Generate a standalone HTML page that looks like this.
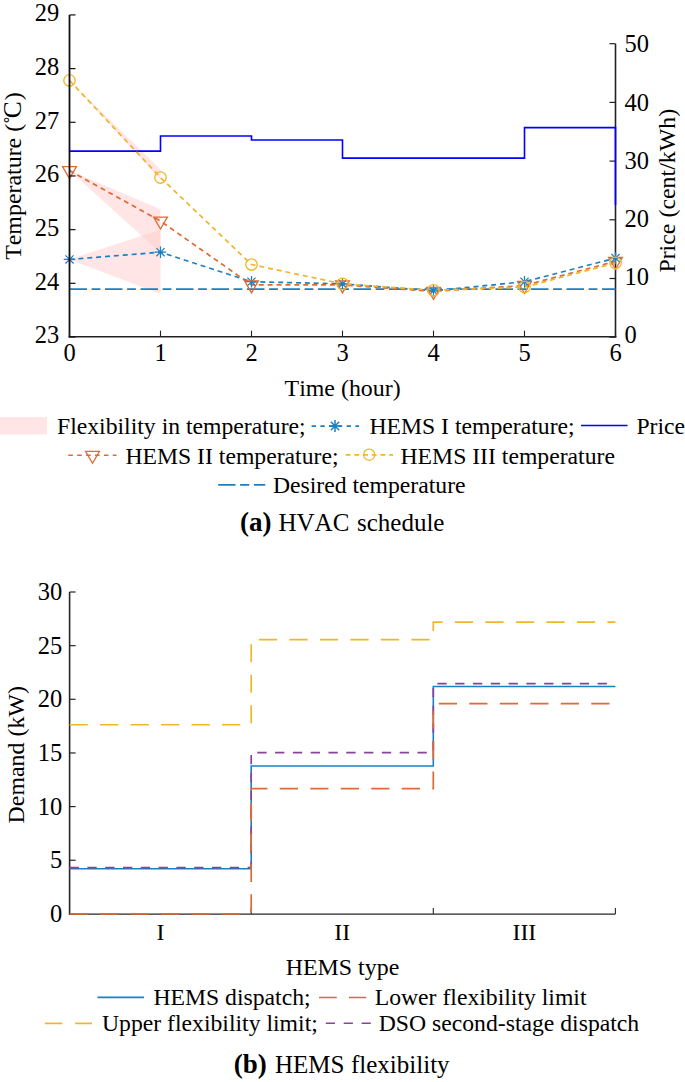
<!DOCTYPE html><html><head><meta charset="utf-8"><style>html,body{margin:0;padding:0;background:#fff;width:685px;height:1082px;overflow:hidden}svg{display:block;font-kerning:none}text{font-kerning:none}</style></head><body><svg width="685" height="1082" viewBox="0 0 685 1082">
<rect width="685" height="1082" fill="#fff"/>
<polygon points="69.5,80.41 160.5,169.52 160.5,179.72" fill="#ffcccc" fill-opacity="0.5"/>
<polygon points="69.5,170.59 160.5,209.24 160.5,252.72" fill="#ffcccc" fill-opacity="0.5"/>
<polygon points="69.5,259.43 160.5,229.64 160.5,294.06" fill="#ffcccc" fill-opacity="0.5"/>
<line x1="615.5" y1="43.7" x2="615.5" y2="337.6" stroke="#222" stroke-width="1.6"/>
<line x1="609.5" y1="337.2" x2="615.5" y2="337.2" stroke="#222" stroke-width="1.2"/>
<line x1="609.5" y1="278.5" x2="615.5" y2="278.5" stroke="#222" stroke-width="1.2"/>
<line x1="609.5" y1="219.8" x2="615.5" y2="219.8" stroke="#222" stroke-width="1.2"/>
<line x1="609.5" y1="161.1" x2="615.5" y2="161.1" stroke="#222" stroke-width="1.2"/>
<line x1="609.5" y1="102.4" x2="615.5" y2="102.4" stroke="#222" stroke-width="1.2"/>
<line x1="609.5" y1="43.7" x2="615.5" y2="43.7" stroke="#222" stroke-width="1.2"/>
<path d="M69.5,151.12 H160.5 V135.98 H251.5 V139.97 H342.5 V158.16 H433.5 V158.16 H524.5 V127.64 H615.5 V205.12" fill="none" stroke="#0000ff" stroke-width="1.6"/>
<line x1="69.5" y1="289.22" x2="615.5" y2="289.22" stroke="#1a80c4" stroke-width="1.7" stroke-dasharray="17.5 4.6 8.8 4.6"/>
<polyline points="69.5,259.43 160.5,252.19 251.5,281.71 342.5,283.86 433.5,290.84 524.5,281.71 615.5,258.09" fill="none" stroke="#1a80c4" stroke-width="1.7" stroke-dasharray="5 3.9"/>
<polyline points="69.5,170.59 160.5,221.05 251.5,284.93 342.5,284.93 433.5,291.37 524.5,285.47 615.5,261.31" fill="none" stroke="#e06a36" stroke-width="1.7" stroke-dasharray="5 3.9"/>
<polyline points="69.5,80.41 160.5,177.57 251.5,264.53 342.5,283.86 433.5,290.3 524.5,287.08 615.5,262.92" fill="none" stroke="#efb62a" stroke-width="1.7" stroke-dasharray="5 3.9"/>
<path d="M69.5,253.63V265.23M63.7,259.43H75.3M65.4,255.33L73.6,263.53M65.4,263.53L73.6,255.33" stroke="#1a80c4" stroke-width="1.2" fill="none"/>
<path d="M160.5,246.39V257.99M154.7,252.19H166.3M156.4,248.08L164.6,256.29M156.4,256.29L164.6,248.08" stroke="#1a80c4" stroke-width="1.2" fill="none"/>
<path d="M251.5,275.91V287.51M245.7,281.71H257.3M247.4,277.61L255.6,285.81M247.4,285.81L255.6,277.61" stroke="#1a80c4" stroke-width="1.2" fill="none"/>
<path d="M342.5,278.06V289.66M336.7,283.86H348.3M338.4,279.76L346.6,287.96M338.4,287.96L346.6,279.76" stroke="#1a80c4" stroke-width="1.2" fill="none"/>
<path d="M433.5,285.04V296.64M427.7,290.84H439.3M429.4,286.73L437.6,294.94M429.4,294.94L437.6,286.73" stroke="#1a80c4" stroke-width="1.2" fill="none"/>
<path d="M524.5,275.91V287.51M518.7,281.71H530.3M520.4,277.61L528.6,285.81M520.4,285.81L528.6,277.61" stroke="#1a80c4" stroke-width="1.2" fill="none"/>
<path d="M615.5,252.29V263.89M609.7,258.09H621.3M611.4,253.99L619.6,262.19M611.4,262.19L619.6,253.99" stroke="#1a80c4" stroke-width="1.2" fill="none"/>
<path d="M62.57,166.59H76.43L69.5,178.59Z" stroke="#e06a36" stroke-width="1.3" fill="none" stroke-linejoin="miter"/>
<path d="M153.57,217.05H167.43L160.5,229.05Z" stroke="#e06a36" stroke-width="1.3" fill="none" stroke-linejoin="miter"/>
<path d="M244.57,280.93H258.43L251.5,292.93Z" stroke="#e06a36" stroke-width="1.3" fill="none" stroke-linejoin="miter"/>
<path d="M335.57,280.93H349.43L342.5,292.93Z" stroke="#e06a36" stroke-width="1.3" fill="none" stroke-linejoin="miter"/>
<path d="M426.57,287.37H440.43L433.5,299.37Z" stroke="#e06a36" stroke-width="1.3" fill="none" stroke-linejoin="miter"/>
<path d="M517.57,281.47H531.43L524.5,293.47Z" stroke="#e06a36" stroke-width="1.3" fill="none" stroke-linejoin="miter"/>
<path d="M608.57,257.31H622.43L615.5,269.31Z" stroke="#e06a36" stroke-width="1.3" fill="none" stroke-linejoin="miter"/>
<circle cx="69.5" cy="80.41" r="5.7" stroke="#efb62a" stroke-width="1.3" fill="none"/>
<circle cx="160.5" cy="177.57" r="5.7" stroke="#efb62a" stroke-width="1.3" fill="none"/>
<circle cx="251.5" cy="264.53" r="5.7" stroke="#efb62a" stroke-width="1.3" fill="none"/>
<circle cx="342.5" cy="283.86" r="5.7" stroke="#efb62a" stroke-width="1.3" fill="none"/>
<circle cx="433.5" cy="290.3" r="5.7" stroke="#efb62a" stroke-width="1.3" fill="none"/>
<circle cx="524.5" cy="287.08" r="5.7" stroke="#efb62a" stroke-width="1.3" fill="none"/>
<circle cx="615.5" cy="262.92" r="5.7" stroke="#efb62a" stroke-width="1.3" fill="none"/>
<line x1="69.5" y1="14.9" x2="69.5" y2="337.6" stroke="#111" stroke-width="1.8"/>
<line x1="68.6" y1="336.8" x2="616.4" y2="336.8" stroke="#222" stroke-width="1.5"/>
<line x1="69.5" y1="337" x2="75.5" y2="337" stroke="#111" stroke-width="1.2"/>
<line x1="69.5" y1="283.32" x2="75.5" y2="283.32" stroke="#111" stroke-width="1.2"/>
<line x1="69.5" y1="229.64" x2="75.5" y2="229.64" stroke="#111" stroke-width="1.2"/>
<line x1="69.5" y1="175.96" x2="75.5" y2="175.96" stroke="#111" stroke-width="1.2"/>
<line x1="69.5" y1="122.28" x2="75.5" y2="122.28" stroke="#111" stroke-width="1.2"/>
<line x1="69.5" y1="68.6" x2="75.5" y2="68.6" stroke="#111" stroke-width="1.2"/>
<line x1="69.5" y1="14.92" x2="75.5" y2="14.92" stroke="#111" stroke-width="1.2"/>
<line x1="69.5" y1="330.6" x2="69.5" y2="336.8" stroke="#222" stroke-width="1.1"/>
<line x1="160.5" y1="330.6" x2="160.5" y2="336.8" stroke="#222" stroke-width="1.1"/>
<line x1="251.5" y1="330.6" x2="251.5" y2="336.8" stroke="#222" stroke-width="1.1"/>
<line x1="342.5" y1="330.6" x2="342.5" y2="336.8" stroke="#222" stroke-width="1.1"/>
<line x1="433.5" y1="330.6" x2="433.5" y2="336.8" stroke="#222" stroke-width="1.1"/>
<line x1="524.5" y1="330.6" x2="524.5" y2="336.8" stroke="#222" stroke-width="1.1"/>
<line x1="615.5" y1="330.6" x2="615.5" y2="336.8" stroke="#222" stroke-width="1.1"/>
<text x="59.2" y="343.3" text-anchor="end" font-family="Liberation Serif" font-size="24.5" fill="#000">23</text>
<text x="59.2" y="289.62" text-anchor="end" font-family="Liberation Serif" font-size="24.5" fill="#000">24</text>
<text x="59.2" y="235.94" text-anchor="end" font-family="Liberation Serif" font-size="24.5" fill="#000">25</text>
<text x="59.2" y="182.26" text-anchor="end" font-family="Liberation Serif" font-size="24.5" fill="#000">26</text>
<text x="59.2" y="128.58" text-anchor="end" font-family="Liberation Serif" font-size="24.5" fill="#000">27</text>
<text x="59.2" y="74.9" text-anchor="end" font-family="Liberation Serif" font-size="24.5" fill="#000">28</text>
<text x="59.2" y="21.22" text-anchor="end" font-family="Liberation Serif" font-size="24.5" fill="#000">29</text>
<text x="624.6" y="343.3" font-family="Liberation Serif" font-size="24.5" fill="#000">0</text>
<text x="624.6" y="285.4" font-family="Liberation Serif" font-size="24.5" fill="#000">10</text>
<text x="624.6" y="227.3" font-family="Liberation Serif" font-size="24.5" fill="#000">20</text>
<text x="624.6" y="168.7" font-family="Liberation Serif" font-size="24.5" fill="#000">30</text>
<text x="624.6" y="110.7" font-family="Liberation Serif" font-size="24.5" fill="#000">40</text>
<text x="624.6" y="52.3" font-family="Liberation Serif" font-size="24.5" fill="#000">50</text>
<text x="69.5" y="361" text-anchor="middle" font-family="Liberation Serif" font-size="24.5" fill="#000">0</text>
<text x="160.5" y="361" text-anchor="middle" font-family="Liberation Serif" font-size="24.5" fill="#000">1</text>
<text x="251.5" y="361" text-anchor="middle" font-family="Liberation Serif" font-size="24.5" fill="#000">2</text>
<text x="342.5" y="361" text-anchor="middle" font-family="Liberation Serif" font-size="24.5" fill="#000">3</text>
<text x="433.5" y="361" text-anchor="middle" font-family="Liberation Serif" font-size="24.5" fill="#000">4</text>
<text x="524.5" y="361" text-anchor="middle" font-family="Liberation Serif" font-size="24.5" fill="#000">5</text>
<text x="615.5" y="361" text-anchor="middle" font-family="Liberation Serif" font-size="24.5" fill="#000">6</text>
<text transform="translate(21.3,176) rotate(-90)" text-anchor="middle" font-family="Liberation Serif" font-size="23.9" fill="#000">Temperature (&#x2DA;<tspan font-size="25.5" dx="-2.2">C</tspan><tspan dx="1">)</tspan></text>
<text transform="translate(675,190.7) rotate(-90)" text-anchor="middle" font-family="Liberation Serif" font-size="23.9" fill="#000">Price (cent/kWh)</text>
<text x="342.6" y="395.5" text-anchor="middle" font-family="Liberation Serif" font-size="23.9" fill="#000">Time (hour)</text>
<rect x="0" y="417" width="47" height="17.5" fill="#ffcccc" fill-opacity="0.5"/>
<text x="57" y="434" font-family="Liberation Serif" font-size="23.7" fill="#000">Flexibility in temperature;</text>
<line x1="311.6" y1="426.1" x2="359" y2="426.1" stroke="#1a80c4" stroke-width="1.6" stroke-dasharray="4.4 4.36"/>
<path d="M335,420.1V431.9M329.1,426H340.9M330.83,421.83L339.17,430.17M330.83,430.17L339.17,421.83" stroke="#1a80c4" stroke-width="1.5" fill="none"/>
<text x="369.4" y="434" font-family="Liberation Serif" font-size="23.7" fill="#000">HEMS I temperature;</text>
<line x1="581" y1="425.4" x2="627.5" y2="425.4" stroke="#0000ff" stroke-width="1.5"/>
<text x="636.4" y="434" font-family="Liberation Serif" font-size="23.7" fill="#000">Price</text>
<line x1="68.3" y1="455.2" x2="116.5" y2="455.2" stroke="#e06a36" stroke-width="1.6" stroke-dasharray="4.6 4.3"/>
<path d="M85.57,451.3H99.43L92.5,463.3Z" stroke="#e06a36" stroke-width="1.3" fill="none" stroke-linejoin="miter"/>
<text x="125.4" y="463.5" font-family="Liberation Serif" font-size="23.7" fill="#000">HEMS II temperature;</text>
<line x1="345.7" y1="454.9" x2="393" y2="454.9" stroke="#efb62a" stroke-width="1.6" stroke-dasharray="4.8 3.9"/>
<circle cx="369.2" cy="454.7" r="5.6" stroke="#efb62a" stroke-width="1.3" fill="none"/>
<text x="400.5" y="463.5" font-family="Liberation Serif" font-size="23.7" fill="#000">HEMS III temperature</text>
<line x1="218.2" y1="484.8" x2="265.2" y2="484.8" stroke="#1a80c4" stroke-width="1.7" stroke-dasharray="17.3 4.6 9.2 4.6"/>
<text x="272.9" y="492.5" font-family="Liberation Serif" font-size="23.7" fill="#000">Desired temperature</text>
<text x="240" y="530.5" font-family="Liberation Serif" font-size="25" fill="#000"><tspan font-weight="bold" font-size="27">(a)</tspan></text><text x="278.5" y="530.5" font-family="Liberation Serif" font-size="25" fill="#000">HVAC</text><text x="357" y="530.5" font-family="Liberation Serif" font-size="25" fill="#000">schedule</text>
<line x1="69.6" y1="592" x2="69.6" y2="914.8" stroke="#262626" stroke-width="1.6"/>
<line x1="68.8" y1="914.1" x2="615.4" y2="914.1" stroke="#262626" stroke-width="1.4"/>
<line x1="69.6" y1="913.9" x2="75.6" y2="913.9" stroke="#262626" stroke-width="1.2"/>
<text x="62.2" y="921.9" text-anchor="end" font-family="Liberation Serif" font-size="24.5" fill="#000">0</text>
<line x1="69.6" y1="860.25" x2="75.6" y2="860.25" stroke="#262626" stroke-width="1.2"/>
<text x="62.2" y="868.25" text-anchor="end" font-family="Liberation Serif" font-size="24.5" fill="#000">5</text>
<line x1="69.6" y1="806.6" x2="75.6" y2="806.6" stroke="#262626" stroke-width="1.2"/>
<text x="62.2" y="814.6" text-anchor="end" font-family="Liberation Serif" font-size="24.5" fill="#000">10</text>
<line x1="69.6" y1="752.95" x2="75.6" y2="752.95" stroke="#262626" stroke-width="1.2"/>
<text x="62.2" y="760.95" text-anchor="end" font-family="Liberation Serif" font-size="24.5" fill="#000">15</text>
<line x1="69.6" y1="699.3" x2="75.6" y2="699.3" stroke="#262626" stroke-width="1.2"/>
<text x="62.2" y="707.3" text-anchor="end" font-family="Liberation Serif" font-size="24.5" fill="#000">20</text>
<line x1="69.6" y1="645.65" x2="75.6" y2="645.65" stroke="#262626" stroke-width="1.2"/>
<text x="62.2" y="653.65" text-anchor="end" font-family="Liberation Serif" font-size="24.5" fill="#000">25</text>
<line x1="69.6" y1="592" x2="75.6" y2="592" stroke="#262626" stroke-width="1.2"/>
<text x="62.2" y="600" text-anchor="end" font-family="Liberation Serif" font-size="24.5" fill="#000">30</text>
<line x1="251.2" y1="908" x2="251.2" y2="914.1" stroke="#262626" stroke-width="1.1"/>
<line x1="433.3" y1="908" x2="433.3" y2="914.1" stroke="#262626" stroke-width="1.1"/>
<line x1="615.4" y1="908" x2="615.4" y2="914.1" stroke="#262626" stroke-width="1.1"/>
<path d="M69.6,868.73 H251.2 V765.93 H433.3 V686.53 H615.4" fill="none" stroke="#1a80c4" stroke-width="1.6"/>
<path d="M69.6,867.55 H251.2 V752.63 H433.3 V683.53 H615.4" fill="none" stroke="#8a429c" stroke-width="1.7" stroke-dasharray="9.3 8.5"/>
<path d="M69.6,724.73 H251.2 V639.53 H433.3 V622.04 H615.4" fill="none" stroke="#efb62a" stroke-width="1.7" stroke-dasharray="18.2 12.3"/>
<path d="M69.6,913.9 H251.2 V788.57 H433.3 V703.59 H615.4" fill="none" stroke="#e06a36" stroke-width="1.7" stroke-dasharray="18.2 12.3"/>
<text x="160.4" y="939.5" text-anchor="middle" font-family="Liberation Serif" font-size="23.9" fill="#000">I</text>
<text x="342.3" y="939.5" text-anchor="middle" font-family="Liberation Serif" font-size="23.9" fill="#000">II</text>
<text x="524.4" y="939.5" text-anchor="middle" font-family="Liberation Serif" font-size="23.9" fill="#000">III</text>
<text x="342.5" y="974.9" text-anchor="middle" font-family="Liberation Serif" font-size="23.9" fill="#000">HEMS type</text>
<text transform="translate(24.4,754.8) rotate(-90)" text-anchor="middle" font-family="Liberation Serif" font-size="23.9" fill="#000">Demand (kW)</text>
<line x1="97.5" y1="997.4" x2="144.1" y2="997.4" stroke="#1a80c4" stroke-width="1.6"/>
<text x="153.4" y="1004.8" font-family="Liberation Serif" font-size="23.7" fill="#000">HEMS dispatch;</text>
<line x1="319" y1="997.5" x2="366.2" y2="997.5" stroke="#e06a36" stroke-width="1.6" stroke-dasharray="17.8 12.2"/>
<text x="374.7" y="1004.8" font-family="Liberation Serif" font-size="23.7" fill="#000">Lower flexibility limit</text>
<line x1="44.9" y1="1023.4" x2="92" y2="1023.4" stroke="#efb62a" stroke-width="1.6" stroke-dasharray="17.4 12.9"/>
<text x="102" y="1030.9" font-family="Liberation Serif" font-size="23.7" fill="#000">Upper flexibility limit;</text>
<line x1="325.8" y1="1023.3" x2="370.8" y2="1023.3" stroke="#8a429c" stroke-width="1.6" stroke-dasharray="9.2 8.7"/>
<text x="378.7" y="1030.9" font-family="Liberation Serif" font-size="23.7" fill="#000">DSO second-stage dispatch</text>
<text x="233.8" y="1073.3" font-family="Liberation Serif" font-size="25" fill="#000"><tspan font-weight="bold" font-size="27">(b)</tspan></text><text x="275" y="1073.3" font-family="Liberation Serif" font-size="25" fill="#000">HEMS</text><text x="351" y="1073.3" font-family="Liberation Serif" font-size="25" fill="#000">flexibility</text>
</svg></body></html>
